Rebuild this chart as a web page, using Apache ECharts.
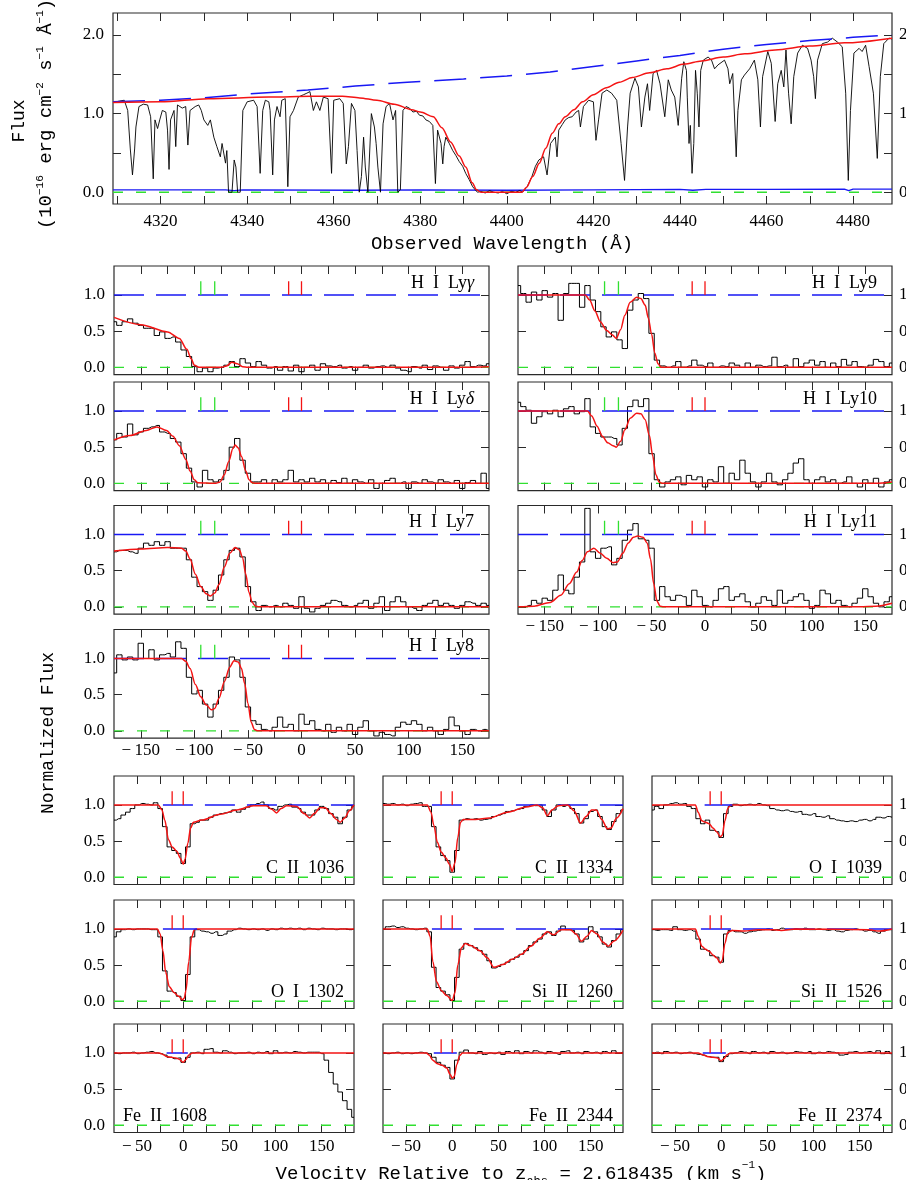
<!DOCTYPE html>
<html>
<head>
<meta charset="utf-8">
<script src="https://cdn.jsdelivr.net/npm/echarts@6/dist/echarts.min.js"></script>
<style>
html, body { margin: 0; padding: 0; background: #fff; overflow: hidden; }
#main { width: 906px; height: 1180px; }
</style>
</head>
<body>
<div id="main"></div>
<script>
// ---- top panel: observed spectrum (wavelength A, flux 1e-16) ----
const specData = [
  [4309.0,1.14],[4309.7,1.15],[4310.5,1.16],[4311.6,1.17],[4312.4,1.04],[4313.0,0.55],[4313.5,0.22],[4314.0,0.55],
  [4314.3,0.83],[4315.0,1.09],[4316.0,1.12],[4317.0,1.11],[4317.7,0.96],[4318.3,0.17],[4318.7,0.92],[4319.3,0.81],
  [4319.8,0.92],[4320.4,1.04],[4321.2,1.02],[4321.6,0.79],[4321.95,0.29],[4322.3,0.92],[4323.1,1.04],[4323.5,0.58],
  [4323.9,1.11],[4325.0,1.07],[4325.8,1.09],[4326.3,0.60],[4326.8,1.04],[4328.0,1.09],[4328.8,1.11],[4329.4,1.04],
  [4330.0,0.92],[4330.9,0.85],[4331.5,0.92],[4332.3,0.70],[4333.0,0.58],[4333.8,0.45],[4334.2,0.62],[4335.0,0.37],
  [4335.3,0.53],[4335.7,0.0],[4336.5,0.0],[4337.0,0.41],[4337.4,0.32],[4337.8,0.0],[4338.4,0.0],[4339.0,1.04],
  [4340.0,1.15],[4341.5,1.17],[4342.3,1.09],[4343.0,0.24],[4343.6,1.04],[4344.2,1.17],[4345.0,1.15],[4345.3,1.04],
  [4345.9,0.22],[4346.3,0.92],[4346.9,1.09],[4347.6,0.96],[4348.0,1.17],[4348.8,1.19],[4349.4,0.07],[4349.9,0.96],
  [4350.7,1.04],[4351.8,1.21],[4353.0,1.24],[4353.8,1.26],[4354.5,1.28],[4355.3,1.04],[4356.0,1.15],[4356.8,1.04],
  [4357.6,1.21],[4358.7,1.19],[4359.5,0.24],[4360.0,1.17],[4361.4,1.19],[4362.2,1.13],[4362.9,0.36],[4363.4,0.58],
  [4364.1,1.13],[4364.9,1.04],[4365.4,0.53],[4365.9,0.0],[4366.4,0.20],[4366.9,0.70],[4367.3,0.32],[4367.9,0.0],
  [4368.3,0.0],[4368.7,1.00],[4369.4,0.83],[4369.8,0.62],[4370.2,0.32],[4370.8,0.0],[4371.4,0.87],[4372.1,1.09],
  [4372.9,1.13],[4373.7,0.92],[4374.3,1.04],[4374.8,0.0],[4375.4,0.03],[4376.0,1.04],[4376.7,1.09],[4377.5,1.07],
  [4378.3,1.02],[4379.1,1.03],[4379.8,0.98],[4380.6,0.97],[4381.3,0.92],[4382.1,0.90],[4382.9,0.85],[4383.5,0.11],
  [4384.0,0.79],[4384.8,0.62],[4385.2,0.36],[4385.5,0.58],[4385.9,0.70],[4386.7,0.62],[4387.5,0.53],[4388.2,0.47],
  [4389.0,0.39],[4389.8,0.33],[4390.5,0.24],[4391.3,0.16],[4392.1,0.07],[4393.2,0.0],[4394.0,0.01],[4395.0,-0.01],
  [4396.0,0.02],[4397.0,0.0],[4398.0,-0.01],[4399.0,0.01],[4400.0,-0.02],[4401.0,0.01],[4402.0,0.0],[4403.0,0.02],
  [4403.6,0.0],[4404.7,0.07],[4405.8,0.20],[4406.6,0.33],[4407.4,0.41],[4408.5,0.45],[4409.3,0.22],[4410.1,0.62],
  [4411.2,0.70],[4411.6,0.45],[4412.0,0.79],[4412.8,0.86],[4413.5,0.92],[4414.3,0.95],[4415.1,0.96],[4416.0,1.02],
  [4416.6,1.04],[4417.0,0.83],[4417.7,1.09],[4418.9,1.17],[4420.0,1.15],[4420.6,0.66],[4421.2,0.92],[4422.0,1.26],
  [4423.1,1.30],[4424.2,1.26],[4425.4,1.17],[4426.4,0.62],[4427.2,0.15],[4427.9,0.83],[4428.5,1.26],[4429.6,1.45],
  [4430.4,1.34],[4431.1,0.83],[4431.9,1.21],[4432.5,1.38],[4433.0,1.04],[4433.8,1.51],[4434.6,1.55],[4435.4,1.38],
  [4436.5,0.96],[4437.3,1.43],[4438.0,1.30],[4438.8,1.21],[4439.6,0.85],[4440.4,1.45],[4440.9,1.66],[4441.5,1.55],
  [4441.7,1.21],[4442.1,0.62],[4442.4,0.85],[4442.8,0.24],[4443.2,0.62],[4443.6,1.55],[4444.0,1.26],[4444.4,0.83],
  [4444.8,1.55],[4445.4,1.68],[4446.5,1.72],[4447.3,1.68],[4448.0,1.57],[4448.8,1.62],[4450.3,1.68],[4451.1,1.57],
  [4451.5,1.38],[4452.2,1.51],[4453.0,0.45],[4453.4,1.04],[4454.2,1.43],[4454.9,1.49],[4456.1,1.57],[4457.2,1.68],
  [4458.0,1.43],[4458.6,0.83],[4459.1,1.47],[4460.3,1.79],[4461.1,1.64],[4462.0,0.90],[4462.6,1.38],[4463.4,1.55],
  [4464.0,1.34],[4464.5,1.81],[4465.1,1.26],[4465.7,0.87],[4466.3,1.47],[4467.2,1.77],[4468.3,1.87],[4469.5,1.83],
  [4470.3,1.68],[4470.9,1.47],[4471.3,1.19],[4471.8,1.68],[4472.9,1.89],[4474.1,1.91],[4475.2,1.96],[4476.4,1.91],
  [4477.5,1.85],[4478.3,1.26],[4478.9,0.15],[4479.4,1.04],[4480.2,1.77],[4481.4,1.83],[4482.1,1.79],[4482.9,1.87],
  [4483.7,1.60],[4484.7,1.26],[4485.6,0.43],[4486.3,1.47],[4487.1,1.89],[4488.3,1.96],[4489.0,1.95]
];
const specModel = [
  [4309,1.14],[4320,1.15],[4331,1.19],[4345,1.21],[4355,1.22],[4362,1.22],[4366,1.20],[4370,1.17],[4374,1.12],
  [4378,1.05],[4380,1.02],[4383,0.96],[4385,0.82],[4387,0.64],[4389,0.46],[4390.5,0.32],[4392,0.12],[4393,0.03],
  [4394,0.0],[4403.5,0.0],[4404.5,0.06],[4406,0.20],[4407.5,0.37],[4409,0.56],[4410.5,0.75],[4412,0.87],[4413.5,0.96],
  [4415.5,1.05],[4417.5,1.15],[4420,1.24],[4423,1.33],[4426,1.40],[4429,1.46],[4433,1.52],[4437,1.57],[4441,1.63],
  [4445,1.67],[4450,1.72],[4455,1.76],[4462,1.81],[4470,1.86],[4478,1.90],[4489,1.96]
];
const specCont = [
  [4309,1.15],[4320,1.17],[4330,1.20],[4340,1.25],[4354,1.30],[4365,1.35],[4377,1.40],[4390,1.44],[4400,1.48],
  [4410,1.53],[4420,1.60],[4430,1.67],[4440,1.74],[4450,1.82],[4460,1.88],[4470,1.93],[4480,1.97],[4489,2.00]
];
const specErr = [
  [4309,0.03],[4335,0.03],[4337,0.02],[4339,0.03],[4365,0.025],[4380,0.03],[4400,0.025],[4420,0.03],[4440,0.035],
  [4443,0.025],[4446,0.035],[4460,0.035],[4478,0.04],[4479,0.02],[4480,0.04],[4489,0.04]
];
const waveTicks = [4310,4320,4330,4340,4350,4360,4370,4380,4390,4400,4410,4420,4430,4440,4450,4460,4470,4480];
const waveLabels = [4320,4340,4360,4380,4400,4420,4440,4460,4480];

// ---- H I panels (velocity bins, km/s) ----
const velLy = [-175,-170,-165,-160,-155,-150,-145,-140,-135,-130,-125,-120,-115,-110,-105,-100,-95,-90,-85,-80,
  -75,-70,-65,-60,-55,-50,-45,-40,-35,-30,-25,-20,-15,-10,-5,0,5,10,15,20,25,30,35,40,45,50,55,60,65,70,
  75,80,85,90,95,100,105,110,115,120,125,130,135,140,145,150,155,160,165,170,175];
const fluxLyG = [0.63,0.58,0.63,0.67,0.61,0.58,0.54,0.54,0.44,0.49,0.40,0.42,0.35,0.24,0.15,0.01,-0.06,-0.01,-0.06,-0.01,
  0.00,0.03,0.08,0.01,0.12,0.06,0.01,0.08,0.03,-0.01,0.01,-0.04,0.01,-0.05,0.03,-0.06,0.00,0.03,-0.04,0.05,
  0.02,0.01,0.03,-0.01,0.01,-0.04,0.00,0.03,-0.01,0.01,0.02,0.00,0.03,-0.01,-0.04,-0.06,0.01,-0.01,0.03,-0.03,
  0.02,0.00,-0.04,0.02,-0.01,0.03,0.08,0.01,0.03,0.02,0.05];
const fluxLyD = [0.60,0.69,0.64,0.82,0.67,0.71,0.76,0.78,0.80,0.71,0.69,0.62,0.57,0.41,0.21,0.02,-0.05,0.18,0.05,0.02,
  0.05,0.18,0.50,0.62,0.32,0.14,0.02,0.02,0.05,0.00,0.05,0.02,0.05,0.18,0.02,0.05,0.02,0.07,0.02,0.05,
  0.00,0.04,0.01,0.07,0.00,0.05,0.02,0.00,0.05,-0.07,0.00,0.04,0.07,0.00,0.02,-0.07,0.02,0.00,0.05,0.02,
  0.00,0.05,0.02,0.00,0.04,-0.07,0.01,0.04,0.00,0.14,-0.07];
const fluxLy7 = [0.76,0.78,0.78,0.76,0.74,0.81,0.88,0.85,0.90,0.85,0.90,0.81,0.81,0.81,0.65,0.41,0.28,0.21,0.09,0.23,
  0.44,0.65,0.78,0.81,0.69,0.28,0.07,-0.05,0.02,0.00,0.02,0.00,0.05,0.02,-0.02,0.14,-0.02,-0.07,-0.02,0.02,
  0.05,0.09,0.07,0.02,0.00,0.02,0.05,0.09,-0.02,0.05,0.14,-0.05,0.07,0.14,0.07,0.00,-0.02,-0.05,0.02,0.05,
  0.09,0.02,0.05,0.02,-0.02,0.02,0.07,0.05,0.02,0.05,0.02];
const fluxLy8 = [0.80,1.05,0.98,1.02,0.98,1.21,1.00,1.12,0.98,1.05,1.07,1.02,1.23,1.14,0.74,0.51,0.56,0.37,0.19,0.37,
  0.56,0.74,1.02,0.98,0.74,0.33,0.14,0.09,0.02,0.00,0.05,0.19,0.05,0.09,0.00,0.23,0.09,0.14,0.02,0.00,
  0.09,-0.02,0.05,0.00,0.09,-0.05,0.05,0.14,0.00,-0.07,-0.02,-0.05,-0.07,0.05,0.12,0.09,0.14,0.09,0.00,0.05,
  0.00,-0.05,0.02,0.19,0.07,0.00,-0.05,0.02,0.00,0.02,0.00];
const fluxLy9 = [1.13,1.02,0.90,1.04,0.93,1.06,0.97,1.02,0.65,1.02,1.16,1.16,0.83,1.13,0.93,0.77,0.56,0.42,0.49,0.38,
  0.26,0.79,0.93,1.02,0.95,0.47,0.10,0.02,0.00,0.02,0.08,0.00,0.02,0.10,0.03,0.01,0.06,0.00,0.02,0.01,
  0.06,0.03,0.00,0.06,0.00,0.03,0.01,0.02,0.14,0.01,0.03,0.00,0.12,0.01,0.06,0.10,0.03,0.08,0.00,0.06,
  0.01,0.11,0.03,0.08,0.01,0.00,0.03,0.11,0.08,0.01,0.06];
const fluxLy10 = [1.12,1.06,1.01,0.83,0.92,0.99,0.96,1.01,0.92,1.03,1.06,0.96,0.99,1.17,0.78,0.69,0.64,0.64,0.62,0.53,
  0.76,1.06,1.15,1.06,1.17,0.41,0.05,-0.05,0.02,0.05,0.09,-0.02,0.11,0.05,0.09,-0.05,0.05,0.02,0.23,0.00,
  0.14,0.05,0.32,0.14,0.02,-0.05,0.02,0.14,0.02,-0.02,0.05,0.14,0.28,0.34,0.05,0.00,0.05,0.09,0.02,0.05,
  0.00,0.02,0.09,0.00,-0.05,0.05,0.00,0.07,-0.05,0.02,0.05];
const fluxLy11 = [0.00,0.00,0.02,0.09,0.05,0.12,0.09,0.23,0.44,0.23,0.18,0.41,0.62,1.36,0.76,0.67,0.81,0.83,0.58,0.67,
  0.92,1.06,1.15,0.94,0.92,0.81,0.09,0.28,0.14,0.09,0.16,0.14,0.02,0.23,0.14,0.02,0.00,0.09,0.25,0.28,
  0.09,0.14,0.18,0.07,0.00,0.05,0.14,0.09,0.02,0.23,0.05,0.09,0.14,0.18,0.09,-0.02,0.02,0.23,0.18,0.05,
  0.09,0.02,0.00,0.05,0.12,0.25,0.14,0.05,0.00,0.07,0.14];

const modelLyG = [[-175,0.69],[-150,0.59],[-125,0.49],[-114,0.40],[-107,0.25],[-103,0.12],[-100,0.03],[-95,0],[-75,0],
  [-70,0.02],[-65,0.07],[-60,0.05],[-55,0.01],[-50,0],[150,0],[175,0.01]];
const modelLyD = [[-175,0.60],[-160,0.66],[-145,0.73],[-135,0.78],[-126,0.73],[-120,0.65],[-114,0.52],[-108,0.33],
  [-104,0.17],[-100,0.05],[-97,0.01],[-80,0],[-76,0.02],[-72,0.12],[-68,0.30],[-64,0.48],[-62,0.53],[-59,0.49],
  [-56,0.37],[-52,0.17],[-49,0.05],[-46,0.01],[-43,0],[175,0]];
const modelLy7 = [[-175,0.77],[-150,0.80],[-125,0.82],[-112,0.81],[-108,0.77],[-104,0.66],[-99,0.45],[-94,0.28],
  [-89,0.18],[-85,0.15],[-81,0.19],[-77,0.31],[-72,0.55],[-67,0.74],[-62,0.82],[-58,0.79],[-55,0.68],[-52,0.45],
  [-49,0.20],[-46,0.06],[-43,0.01],[-40,0],[175,0]];
const modelLy8 = [[-175,1],[-112,1],[-108,0.96],[-104,0.86],[-99,0.64],[-94,0.47],[-89,0.36],[-84,0.29],[-81,0.31],
  [-77,0.45],[-72,0.68],[-67,0.88],[-63,0.97],[-59,0.95],[-56,0.86],[-53,0.65],[-50,0.38],[-47,0.12],[-44,0.02],
  [-41,0],[175,0]];
const modelLy9 = [[-175,1],[-112,1],[-108,0.93],[-103,0.78],[-98,0.63],[-92,0.51],[-87,0.45],[-83,0.40],[-79,0.52],
  [-75,0.72],[-70,0.90],[-64,0.97],[-60,0.95],[-56,0.86],[-53,0.68],[-50,0.46],[-47,0.20],[-44,0.05],[-41,0],[175,0]];
const modelLy10 = [[-175,1],[-110,1],[-106,0.93],[-101,0.79],[-96,0.65],[-91,0.56],[-86,0.52],[-83,0.50],[-79,0.58],
  [-75,0.74],[-70,0.90],[-64,0.97],[-60,0.96],[-56,0.88],[-52,0.66],[-49,0.38],[-46,0.12],[-43,0.02],[-40,0],
  [160,0],[175,0.02]];
const modelLy11 = [[-175,0],[-160,0.01],[-145,0.06],[-135,0.16],[-127,0.32],[-120,0.48],[-115,0.64],[-110,0.76],
  [-104,0.81],[-98,0.74],[-92,0.67],[-86,0.61],[-82,0.62],[-77,0.74],[-72,0.88],[-67,0.96],[-63,0.98],[-58,0.96],
  [-54,0.88],[-51,0.66],[-48,0.32],[-45,0.08],[-42,0.01],[-39,0],[145,0],[160,0.01],[175,0.05]];

const velTicksLy = [-150,-125,-100,-75,-50,-25,0,25,50,75,100,125,150];
const velLabelsLy = [-150,-100,-50,0,50,100,150];
const hiMarks = [-94,-81];
const compMarks = [-12,0];

// ---- metal-line panels ----
const velMetal = [-75,-70,-65,-60,-55,-50,-45,-40,-35,-30,-25,-20,-15,-10,-5,0,5,10,15,20,
  25,30,35,40,45,50,55,60,65,70,75,80,85,90,95,100,105,110,115,120,125,130,135,140,145,150,155,160,165,170,
  175,180,185];
const fluxC1036 = [0.79,0.81,0.86,0.90,0.95,1.00,1.02,1.01,1.00,1.03,0.95,0.70,0.42,0.37,0.33,0.19,0.42,0.74,0.76,0.79,
  0.79,0.83,0.86,0.88,0.89,0.90,0.93,0.90,0.94,0.97,1.00,1.02,1.04,1.00,0.95,0.93,0.98,1.00,1.01,0.97,
  0.95,0.90,0.86,0.86,0.93,0.98,0.95,0.88,0.83,0.74,0.83,0.93,0.98];
const fluxC1334 = [1.02,1.01,1.02,1.00,1.01,0.99,1.01,1.02,1.03,0.98,0.98,0.70,0.42,0.30,0.23,0.07,0.37,0.79,0.81,0.80,
  0.81,0.79,0.80,0.81,0.84,0.86,0.88,0.91,0.92,0.94,0.95,0.98,1.00,0.99,1.00,0.93,0.84,0.93,1.00,0.98,
  1.00,0.95,0.88,0.75,0.81,0.91,0.93,0.84,0.70,0.66,0.77,0.88,0.93];
const fluxO1039 = [0.93,0.98,0.95,1.00,1.02,1.03,1.01,1.02,0.98,0.95,0.81,0.74,0.79,0.65,0.63,0.55,0.88,0.98,1.01,0.99,
  1.00,1.01,1.00,1.02,1.00,0.99,0.95,0.93,0.92,0.93,0.91,0.90,0.91,0.87,0.86,0.88,0.84,0.83,0.85,0.81,
  0.79,0.78,0.77,0.78,0.77,0.79,0.80,0.78,0.80,0.83,0.82,0.84,0.83];
const fluxO1302 = [0.89,0.96,0.99,1.00,0.99,1.00,1.00,1.00,0.99,0.99,0.89,0.42,0.14,0.12,0.07,0.01,0.37,0.89,0.99,0.97,
  0.96,0.94,0.96,0.91,0.93,0.97,0.99,1.01,1.00,0.99,1.00,0.99,1.00,0.98,1.00,0.99,1.01,1.00,1.01,1.00,
  1.01,0.99,1.01,1.00,0.99,1.01,1.00,1.00,0.99,1.00,1.00,0.99,1.00];
const fluxSi1260 = [1.00,1.03,1.04,1.02,1.03,1.01,1.00,0.99,1.00,1.01,0.96,0.47,0.19,0.14,0.09,0.01,0.33,0.72,0.80,0.77,
  0.74,0.70,0.65,0.56,0.46,0.48,0.51,0.54,0.58,0.61,0.65,0.70,0.77,0.82,0.86,0.93,0.96,0.91,0.97,1.04,
  0.99,0.98,0.93,0.82,0.86,1.03,0.96,0.89,0.79,0.75,0.84,0.93,0.99];
const fluxSi1526 = [0.99,0.98,0.99,0.99,0.98,1.03,0.99,0.98,0.99,0.97,0.86,0.72,0.70,0.63,0.61,0.54,0.93,0.98,0.96,0.96,
  0.94,0.96,0.97,0.98,0.99,1.00,0.98,0.99,1.01,0.99,0.99,1.00,0.99,1.01,0.99,0.99,1.00,0.99,0.98,0.99,
  0.97,0.96,0.98,0.99,1.00,0.99,0.97,0.98,0.96,0.94,0.97,0.99,0.99];
const fluxFe1608 = [1.00,0.99,1.00,1.00,1.01,0.99,1.00,1.01,1.02,1.00,0.99,0.97,0.94,0.92,0.93,0.87,0.94,1.00,1.01,0.99,
  1.05,1.06,1.01,1.00,1.03,1.01,0.99,1.00,1.00,1.01,0.99,1.01,1.00,1.02,0.99,1.03,1.00,1.01,1.00,1.02,
  1.01,1.00,1.01,1.01,1.01,0.99,0.90,0.73,0.57,0.46,0.34,0.22,0.11];
const fluxFe2344 = [1.00,0.99,1.00,1.01,0.99,1.00,0.99,1.00,1.01,1.00,0.99,0.94,0.87,0.83,0.80,0.64,0.90,1.01,1.04,1.00,
  0.99,1.02,0.98,1.00,0.99,1.01,0.98,1.02,1.00,1.03,0.99,1.02,1.00,1.03,1.01,0.99,1.02,1.00,0.98,1.02,
  1.03,1.00,1.01,0.99,1.02,1.00,1.01,0.99,1.02,1.00,1.03,1.00,1.01];
const fluxFe2374 = [1.00,1.01,0.99,1.02,1.00,1.01,0.99,1.00,1.01,0.99,0.98,0.97,0.95,0.94,0.94,0.88,0.95,0.99,1.00,1.02,
  1.01,0.99,1.02,1.00,1.01,0.99,1.02,1.00,1.01,0.99,1.00,1.02,1.01,1.00,1.02,0.99,1.01,1.00,1.02,1.01,
  1.00,0.97,0.98,1.01,1.02,1.00,1.01,1.02,1.00,1.03,0.99,1.02,0.99];

const modelC1036 = [[-75,1],[-27,1],[-23,0.93],[-20,0.79],[-16,0.52],[-12,0.42],[-7,0.36],[-3,0.26],[0,0.18],[2,0.25],
  [5,0.47],[8,0.68],[11,0.76],[20,0.79],[40,0.87],[58,0.93],[76,0.99],[90,0.99],[96,0.94],[101,0.89],[106,0.95],
  [112,0.99],[123,0.98],[131,0.88],[137,0.82],[142,0.88],[148,0.96],[154,0.96],[160,0.88],[166,0.80],[170,0.76],
  [175,0.82],[180,0.92],[185,1.0]];
const modelC1334 = [[-75,1],[-27,1],[-23,0.90],[-20,0.72],[-16,0.48],[-12,0.35],[-7,0.27],[-3,0.18],[0,0.08],[3,0.20],
  [6,0.55],[9,0.76],[12,0.80],[25,0.80],[40,0.82],[60,0.90],[80,0.97],[92,1.0],[98,0.96],[103,0.85],[108,0.93],
  [115,0.99],[125,1.0],[132,0.92],[139,0.75],[145,0.84],[151,0.93],[156,0.93],[162,0.80],[168,0.67],[172,0.68],
  [178,0.82],[185,0.95]];
const modelO1039 = [[-75,1],[-28,1],[-25,0.90],[-21,0.78],[-17,0.76],[-13,0.74],[-9,0.68],[-5,0.63],[-1,0.56],[1,0.58],
  [4,0.78],[7,0.95],[10,1],[185,1]];
const modelO1302 = [[-75,1],[-28,1],[-25,0.93],[-22,0.70],[-19,0.40],[-15,0.20],[-10,0.12],[-5,0.07],[-1,0.02],[1,0.04],
  [3,0.15],[6,0.55],[9,0.88],[12,0.99],[15,1],[185,1]];
const modelSi1260 = [[-75,1],[-27,1],[-24,0.90],[-21,0.55],[-17,0.27],[-12,0.15],[-6,0.08],[0,0.01],[3,0.12],[6,0.50],
  [10,0.74],[14,0.80],[20,0.77],[30,0.70],[38,0.60],[45,0.47],[55,0.51],[65,0.58],[75,0.65],[85,0.76],[95,0.87],
  [103,0.96],[110,0.92],[118,0.99],[128,0.99],[134,0.93],[140,0.83],[146,0.90],[151,0.98],[157,0.93],[163,0.82],
  [169,0.76],[175,0.83],[185,0.98]];
const modelSi1526 = [[-75,1],[-28,1],[-25,0.90],[-21,0.76],[-17,0.72],[-13,0.69],[-9,0.64],[-5,0.60],[-1,0.53],[1,0.56],
  [4,0.80],[7,0.95],[12,0.98],[25,0.97],[40,0.99],[55,0.99],[65,0.98],[80,1],[160,0.99],[170,0.97],[185,1]];
const modelFe1608 = [[-75,1],[-26,1],[-22,0.98],[-18,0.95],[-13,0.94],[-8,0.93],[-4,0.91],[0,0.87],[3,0.91],[6,0.97],
  [10,1],[185,1]];
const modelFe2344 = [[-75,1],[-28,1],[-25,0.97],[-21,0.90],[-16,0.85],[-11,0.83],[-6,0.79],[-2,0.70],[0,0.65],[2,0.67],
  [5,0.84],[8,0.96],[11,1],[185,1]];
const modelFe2374 = [[-75,1],[-25,1],[-21,0.98],[-15,0.95],[-9,0.94],[-4,0.93],[0,0.89],[3,0.92],[6,0.97],[10,1],[185,1]];

const velTicksMetal = [-50,-25,0,25,50,75,100,125,150,175];
const velLabelsMetal = [-50,0,50,100,150];
const normTicks = [0,0.5,1];

// ---- drawing ----
var myChart = echarts.init(document.getElementById('main'));

const RED = '#f41414', BLUE = '#1818f4', GREEN = '#30e030', INK = '#000', FRAME = '#2a2a2a';
const TICKFONT = 'Liberation Serif';
const TITLEFONT = 'Liberation Mono';

const grids = [], xAxes = [], yAxes = [], series = [], graphics = [];

function xFmt(v) { return v < 0 ? '\u2212\u2009' + Math.abs(v) : String(v); }
function yFmt(v) { return v.toFixed(1); }

function tickOpt(vals) {
  return { show: true, inside: true, length: 8, customValues: vals, lineStyle: { color: FRAME, width: 1 } };
}

function addPanel(p) {
  const gi = grids.length;
  grids.push({ left: p.left, top: p.top, width: p.width, height: p.height, show: true,
    borderColor: FRAME, borderWidth: 1.2, backgroundColor: 'transparent',
    containLabel: false, outerBoundsMode: 'none' });
  const xi = xAxes.length, yi = yAxes.length;
  xAxes.push({ gridIndex: gi, type: 'value', position: 'bottom', min: p.xmin, max: p.xmax,
    axisLine: { show: false, onZero: false }, splitLine: { show: false }, axisTick: tickOpt(p.xticks),
    axisLabel: { show: !!p.xlabels, customValues: p.xlabels || [], formatter: xFmt, margin: p.xmargin || 6,
      color: INK, fontSize: 17, fontFamily: TICKFONT } });
  xAxes.push({ gridIndex: gi, type: 'value', position: 'top', min: p.xmin, max: p.xmax,
    axisLine: { show: false, onZero: false }, splitLine: { show: false }, axisTick: tickOpt(p.xticks),
    axisLabel: { show: false } });
  ['left', 'right'].forEach(function (side) {
    const show = side === 'left' ? !!p.yleft : !!p.yright;
    yAxes.push({ gridIndex: gi, type: 'value', position: side, min: p.ymin, max: p.ymax,
      axisLine: { show: false, onZero: false }, splitLine: { show: false }, axisTick: tickOpt(p.yticks),
      axisLabel: { show: show, customValues: p.ylabels, formatter: yFmt, margin: side === 'left' ? 9 : 7,
        color: INK, fontSize: 17, fontFamily: TICKFONT } });
  });
  const ax = { xAxisIndex: xi, yAxisIndex: yi, symbol: 'none', silent: true, animation: false };
  series.push(Object.assign({ type: 'line', data: [[p.xmin, 0], [p.xmax, 0]], z: 2,
    lineStyle: { color: GREEN, width: 1.4, type: p.zeroDash || [10, 13] } }, ax));
  if (p.err) series.push(Object.assign({ type: 'line', data: p.err, z: 3, lineStyle: { color: BLUE, width: 1.3 } }, ax));
  series.push(Object.assign({ type: 'line', data: p.data, step: p.step ? 'middle' : false, z: 4,
    lineStyle: { color: INK, width: p.dataWidth || 1 } }, ax));
  if (p.cont) series.push(Object.assign({ type: 'line', data: p.cont, z: p.contOnTop ? 7 : 5,
    lineStyle: { color: BLUE, width: 1.5, type: p.contDash || [30, 12] } }, ax));
  if (p.model) series.push(Object.assign({ type: 'line', data: p.model, smooth: 0.3, smoothMonotone: 'x', z: 6,
    lineStyle: { color: RED, width: 1.5 } }, ax));
  (p.marks || []).forEach(function (m) {
    m.at.forEach(function (v) {
      series.push(Object.assign({ type: 'line', data: [[v, 1.0], [v, 1.19]], z: 8,
        lineStyle: { color: m.color, width: 1.3 } }, ax));
    });
  });
  if (p.label) {
    const right = p.labelAlign !== 'left';
    graphics.push({ type: 'text', silent: true, z: 10,
      x: right ? p.left + p.width - p.labelInset : p.left + p.labelInset, y: p.top + p.labelDy,
      style: { text: p.label, fill: INK, fontSize: 18, fontFamily: TICKFONT,
        align: right ? 'right' : 'left', verticalAlign: 'middle',
        rich: { it: { fontStyle: 'italic', fontSize: 18, fontFamily: TICKFONT, fill: INK } } } });
  }
}

function pairs(xs, ys) { return xs.map(function (x, i) { return [x, ys[i]]; }); }

// top spectrum panel
addPanel({ left: 113, top: 13, width: 779, height: 191, xmin: 4309, xmax: 4489, ymin: -0.15, ymax: 2.28,
  xticks: waveTicks, xlabels: waveLabels, xmargin: 9, yticks: [0, 0.5, 1, 1.5, 2], ylabels: [0, 1, 2],
  yleft: true, yright: true, data: specData, dataWidth: 0.9, model: specModel, cont: specCont, contDash: [32, 14],
  err: specErr });

// H I panels
const lyLayout = [
  { label: 'H  I  Ly{it|γ}', flux: fluxLyG, model: modelLyG, left: 114, top: 266, col: 0 },
  { label: 'H  I  Ly{it|δ}', flux: fluxLyD, model: modelLyD, left: 114, top: 382, col: 0 },
  { label: 'H  I  Ly7', flux: fluxLy7, model: modelLy7, left: 114, top: 505.5, col: 0 },
  { label: 'H  I  Ly8', flux: fluxLy8, model: modelLy8, left: 114, top: 629.5, col: 0, bottom: true },
  { label: 'H  I  Ly9', flux: fluxLy9, model: modelLy9, left: 518, top: 266, col: 1 },
  { label: 'H  I  Ly10', flux: fluxLy10, model: modelLy10, left: 518, top: 382, col: 1 },
  { label: 'H  I  Ly11', flux: fluxLy11, model: modelLy11, left: 518, top: 505.5, col: 1, bottom: true }
];
lyLayout.forEach(function (L) {
  addPanel({ left: L.left, top: L.top, width: L.col ? 374 : 375, height: 108.6, xmin: -175, xmax: 175,
    ymin: -0.1, ymax: 1.4, xticks: velTicksLy, xlabels: L.bottom ? velLabelsLy : null, xmargin: 4,
    yticks: normTicks, ylabels: normTicks, yleft: L.col === 0, yright: L.col === 1,
    data: pairs(velLy, L.flux), step: true, model: L.model, cont: [[-175, 1], [175, 1]],
    marks: [{ at: hiMarks, color: GREEN }, { at: compMarks, color: RED }],
    label: L.label, labelInset: 15, labelDy: 17 });
});

// metal panels
const metalLayout = [
  { label: 'C  II  1036', flux: fluxC1036, model: modelC1036, cont: [-22, 185], col: 0, row: 0 },
  { label: 'C  II  1334', flux: fluxC1334, model: modelC1334, cont: [-22, 185], col: 1, row: 0 },
  { label: 'O  I  1039', flux: fluxO1039, model: modelO1039, cont: [-18, 12], col: 2, row: 0, short: true },
  { label: 'O  I  1302', flux: fluxO1302, model: modelO1302, cont: [-22, 15], col: 0, row: 1, short: true },
  { label: 'Si  II  1260', flux: fluxSi1260, model: modelSi1260, cont: [-22, 185], col: 1, row: 1 },
  { label: 'Si  II  1526', flux: fluxSi1526, model: modelSi1526, cont: [-22, 185], col: 2, row: 1 },
  { label: 'Fe  II  1608', flux: fluxFe1608, model: modelFe1608, cont: [-18, 5], col: 0, row: 2, labelLeft: true, short: true },
  { label: 'Fe  II  2344', flux: fluxFe2344, model: modelFe2344, cont: [-20, 5], col: 1, row: 2, short: true },
  { label: 'Fe  II  2374', flux: fluxFe2374, model: modelFe2374, cont: [-20, 5], col: 2, row: 2, short: true }
];
const metalLefts = [114, 383, 652], metalTops = [776, 900, 1024];
metalLayout.forEach(function (M) {
  addPanel({ left: metalLefts[M.col], top: metalTops[M.row], width: 240, height: 108.5, xmin: -75, xmax: 185,
    ymin: -0.1, ymax: 1.4, xticks: velTicksMetal, xlabels: M.row === 2 ? velLabelsMetal : null, xmargin: 6,
    yticks: normTicks, ylabels: normTicks, yleft: M.col === 0, yright: M.col === 2,
    data: pairs(velMetal, M.flux), step: true, model: M.model, cont: [[M.cont[0], 1], [M.cont[1], 1]],
    contOnTop: !!M.short, contDash: M.short ? 'solid' : [30, 12],
    marks: [{ at: compMarks, color: RED }],
    label: M.label, labelAlign: M.labelLeft ? 'left' : 'right', labelInset: M.labelLeft ? 9 : 10, labelDy: 92 });
});

// axis titles
function title(text, x, y, rot, size) {
  graphics.push({ type: 'text', silent: true, x: x, y: y, rotation: rot || 0, z: 10,
    style: { text: text, fill: INK, fontSize: size, fontFamily: TITLEFONT, align: 'center', verticalAlign: 'middle',
      rich: {
        sup: { fontSize: 11, fontFamily: TITLEFONT, fill: INK, verticalAlign: 'top', lineHeight: 22 },
        sub: { fontSize: 12, fontFamily: TITLEFONT, fill: INK, verticalAlign: 'bottom', lineHeight: 28 }
      } } });
}
title('Observed Wavelength (Å)', 502, 244, 0, 19);
title('Flux', 19, 121, Math.PI / 2, 18);
title('(10{sup|−16} erg cm{sup|−2} s{sup|−1} Å{sup|−1})', 46, 114, Math.PI / 2, 19);
title('Normalized Flux', 48, 733, Math.PI / 2, 18);
title('Velocity Relative to z{sub|abs} = 2.618435 (km s{sup|−1})', 521, 1174, 0, 19);

option = {
  animation: false,
  backgroundColor: '#fff',
  grid: grids,
  xAxis: xAxes,
  yAxis: yAxes,
  series: series,
  graphic: graphics
};

myChart.setOption(option);
</script>
</body>
</html>
